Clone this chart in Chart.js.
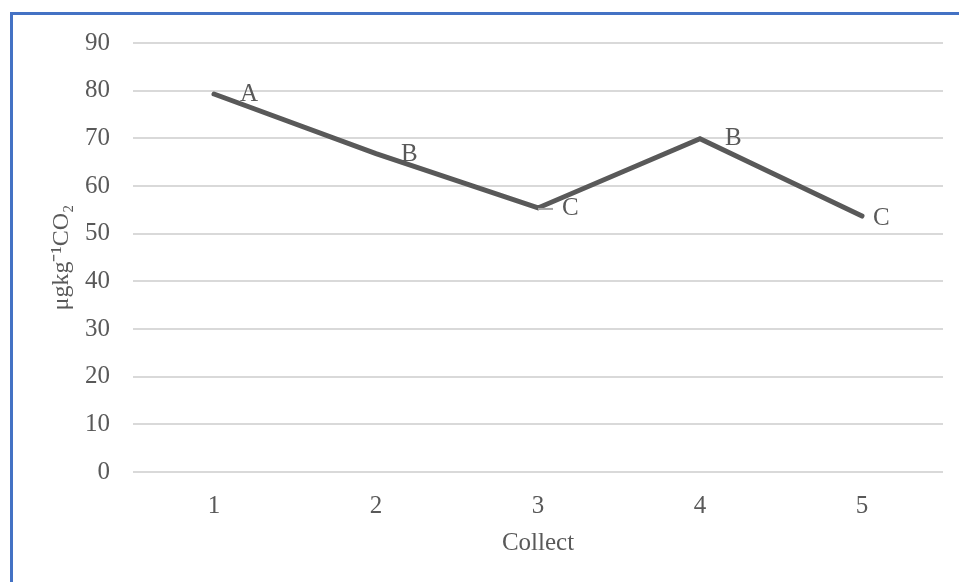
<!DOCTYPE html>
<html>
<head>
<meta charset="utf-8">
<script src="https://cdn.jsdelivr.net/npm/chart.js@4.4.1/dist/chart.umd.min.js"></script>
<style>
  html, body { margin: 0; padding: 0; background: #ffffff; }
  #wrap { position: relative; width: 959px; height: 582px; overflow: hidden; }
  #frame { position: absolute; left: 10px; top: 12px; width: 960px; height: 600px;
           border-top: 3px solid #4472C4; border-left: 3px solid #4472C4; box-sizing: border-box; }
  canvas { position: absolute; left: 0; top: 0; }
</style>
</head>
<body>
<div id="wrap">
  <div id="frame"></div>
  <canvas id="c" width="959" height="582"></canvas>
</div>
<script>
const categories = ['1', '2', '3', '4', '5'];
const values = [79.3, 66.8, 55.4, 69.9, 53.7];
const pointLabels = ['A', 'B', 'C', 'B', 'C'];
const yTicks = [0, 10, 20, 30, 40, 50, 60, 70, 80, 90];
const xTitle = 'Collect';
const yTitle = 'μgkg⁻¹CO₂';

const FONT = "'Liberation Serif', 'Times New Roman', serif";
const TEXT = '#595959';
// label placement style (pixel offsets from each point)
const LABEL_DX = [26, 25, 24, 25, 11];
const LABEL_DY = [0, 1, 1, 0, 2];

const labelPlugin = {
  id: 'pointLetters',
  afterDatasetsDraw(chart) {
    const ctx = chart.ctx;
    const meta = chart.getDatasetMeta(0);
    ctx.save();
    ctx.font = '25px ' + FONT;
    ctx.fillStyle = TEXT;
    ctx.textBaseline = 'middle';
    ctx.textAlign = 'left';
    meta.data.forEach((pt, i) => {
      if (i === 2) {
        ctx.strokeStyle = '#a6a6a6';
        ctx.lineWidth = 2;
        ctx.beginPath();
        ctx.moveTo(pt.x, pt.y + 1);
        ctx.lineTo(pt.x + 15, pt.y + 1);
        ctx.stroke();
      }
      ctx.fillText(pointLabels[i], pt.x + LABEL_DX[i], pt.y + LABEL_DY[i]);
    });
    ctx.restore();
  }
};

new Chart(document.getElementById('c'), {
  type: 'line',
  data: {
    labels: categories,
    datasets: [{
      data: values,
      borderColor: '#595959',
      borderWidth: 5,
      borderCapStyle: 'round',
      borderJoinStyle: 'miter',
      pointRadius: 0,
      pointHoverRadius: 0,
      tension: 0,
      fill: false
    }]
  },
  options: {
    responsive: false,
    animation: false,
    devicePixelRatio: 1,
    layout: { padding: { left: 0, right: 16, top: 43, bottom: 0 } },
    plugins: { legend: { display: false }, tooltip: { enabled: false } },
    scales: {
      x: {
        offset: true,
        grid: { display: false, drawTicks: false },
        border: { display: false },
        ticks: { color: TEXT, font: { family: FONT, size: 25 }, padding: 19 },
        title: { display: true, text: xTitle, color: TEXT,
                 font: { family: FONT, size: 25 }, padding: { top: 0, bottom: 24 } },
        afterFit(scale) { scale.height = 110; }
      },
      y: {
        min: 0, max: 90,
        afterBuildTicks(scale) { scale.ticks = yTicks.map(v => ({ value: v })); },
        grid: { color: '#d9d9d9', lineWidth: 2, drawTicks: false },
        border: { display: false },
        ticks: { color: TEXT, font: { family: FONT, size: 25 }, padding: 23 },
        title: { display: true, text: yTitle, color: TEXT,
                 font: { family: FONT, size: 24 }, padding: { top: 47, bottom: 0 } },
        afterFit(scale) { scale.width = 133; }
      }
    }
  },
  plugins: [labelPlugin]
});
</script>
</body>
</html>
